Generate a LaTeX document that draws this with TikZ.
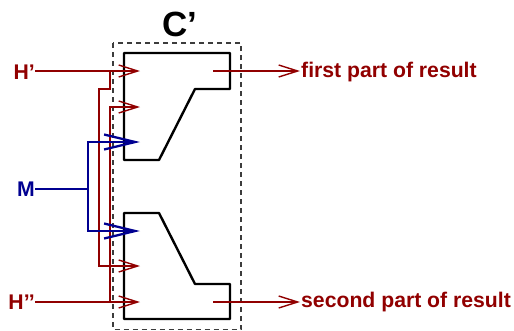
\documentclass[tikz,border=0pt]{standalone}
\usepackage{fontspec}
\setmainfont{Liberation Sans}
\usetikzlibrary{arrows.meta}
\definecolor{dred}{RGB}{145,0,0}
\definecolor{dblue}{RGB}{0,0,145}
\definecolor{dashgray}{RGB}{60,60,60}
\tikzset{
  x=1pt,y=-1pt,
  block/.style={draw=black,line width=2.4pt,line join=round},
  boxdash/.style={draw=dashgray,line width=1.1pt,dash pattern=on 5pt off 4pt},
  redwire/.style={draw=dred,line width=2.2pt},
  bluewire/.style={draw=dblue,line width=2.2pt},
  redarrow/.style={redwire,-{Straight Barb[length=19pt,width=12pt,line width=1.4pt]}},
  bluearrow/.style={bluewire,-{Straight Barb[length=31pt,width=15pt,line width=2.3pt]}},
  redlabel/.style={inner sep=0pt,text=dred,font=\bfseries\fontsize{21.2}{24}\selectfont},
  bluelabel/.style={inner sep=0pt,text=dblue,font=\bfseries\fontsize{21.2}{24}\selectfont},
  titlelabel/.style={inner sep=0pt,font=\bfseries\fontsize{35}{38}\selectfont},
}
\begin{document}
\begin{tikzpicture}
\useasboundingbox (0,0) rectangle (514,330);
% dashed box
\draw[boxdash] (113,43) rectangle (241,329.5);
% blocks
\draw[block] (124,53) -- (230,53) -- (230,89) -- (195,89) -- (159,160) -- (124,160) -- cycle;
\draw[block] (124,213) -- (159,213) -- (195,284) -- (230,284) -- (230,319) -- (124,319) -- cycle;
% labels
\node[titlelabel,anchor=center] (title) at (180,24) {C’};
\node[redlabel,anchor=east] (h1) at (35,72) {H’};
\node[redlabel,anchor=east] (h2) at (35,302) {H’’};
\node[bluelabel,anchor=east] (m) at (35,189) {M};
\node[redlabel,anchor=west] (r1) at (301,72) {first part of result};
\node[redlabel,anchor=west] (r2) at (301,302) {second part of result};
% anchors
\coordinate (in1) at (140,71);
\coordinate (in2) at (140,107);
\coordinate (in3) at (140,142);
\coordinate (in4) at (140,231);
\coordinate (in5) at (140,266);
\coordinate (in6) at (140,302);
\coordinate (o1) at (213,71);
\coordinate (o2) at (213,302);
\coordinate (e1) at (300,71);
\coordinate (e2) at (300,302);
\coordinate (j1) at (110,71);
\coordinate (j2) at (110,302);
\coordinate (j3) at (88,189);
% red wires
\draw[redarrow] (h1.east |- in1) -- (in1);
\draw[redarrow] (h2.east |- in6) -- (in6);
\draw[redwire,line join=miter] (j1) -- (110,89) -- (99,89) -- (99,266) -- (121,266);
\draw[redarrow] (99,266) -- (in5);
\draw[redarrow] (j2) -- (110,107) -- (in2);
\draw[redarrow] (o1) -- (e1);
\draw[redarrow] (o2) -- (e2);
% blue wires
\draw[bluewire] (m.east |- j3) -- (j3);
\draw[bluewire] (88,178) -- (88,205);
\draw[bluearrow] (j3) -- (88,142) -- (in3);
\draw[bluearrow] (j3) -- (88,231) -- (in4);
\end{tikzpicture}
\end{document}
